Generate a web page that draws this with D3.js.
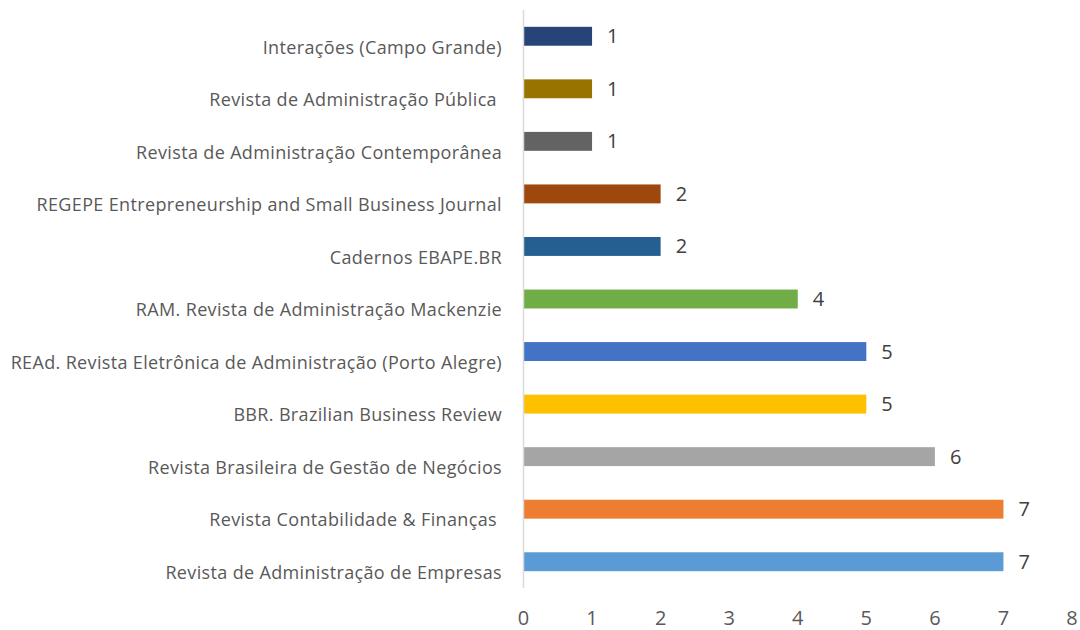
<!DOCTYPE html>
<html>
<head>
<meta charset="utf-8">
<script src="https://cdn.jsdelivr.net/npm/d3@7"></script>
<style>
  body { margin: 0; background: #fff; }
  text { font-family: "Open Sans", sans-serif; }
</style>
</head>
<body>
<div id="chart"></div>
<script>
// categories from bottom to top as in the picture
const journals = [
    "Revista de Administração de Empresas",
    "Revista Contabilidade & Finanças ",
    "Revista Brasileira de Gestão de Negócios",
    "BBR. Brazilian Business Review",
    "REAd. Revista Eletrônica de Administração (Porto Alegre)",
    "RAM. Revista de Administração Mackenzie",
    "Cadernos EBAPE.BR",
    "REGEPE Entrepreneurship and Small Business Journal",
    "Revista de Administração Contemporânea",
    "Revista de Administração Pública ",
    "Interações (Campo Grande)"
];
const counts = [7, 7, 6, 5, 5, 4, 2, 2, 1, 1, 1];
const barColors = ["#5B9BD5", "#ED7D31", "#A5A5A5", "#FFC000", "#4472C4", "#70AD47",
    "#255E91", "#9E480E", "#636363", "#997300", "#264478"];
const xTicks = [0, 1, 2, 3, 4, 5, 6, 7, 8];

const width = 1080;
const height = 630;
const margin = { top: 10, right: 8, bottom: 42, left: 523.5 };

const svg = d3.select("#chart")
    .append("svg")
    .attr("width", width)
    .attr("height", height);

const x = d3.scaleLinear()
    .domain([0, 8])
    .range([margin.left, width - margin.right]);

const y = d3.scaleBand()
    .domain(journals.slice().reverse())
    .range([margin.top, height - margin.bottom])
    .paddingInner(0.64)
    .paddingOuter(0.32);

// bars
svg.selectAll("rect.bar")
    .data(journals)
    .enter()
    .append("rect")
    .attr("class", "bar")
    .attr("x", x(0) + 0.5)
    .attr("y", d => y(d))
    .attr("width", (d, i) => x(counts[i]) - x(0) - 0.5)
    .attr("height", y.bandwidth())
    .attr("fill", (d, i) => barColors[i]);

// vertical axis line
svg.append("line")
    .attr("x1", x(0)).attr("x2", x(0))
    .attr("y1", margin.top).attr("y2", height - margin.bottom)
    .attr("stroke", "#d9d9d9")
    .attr("stroke-width", 1.5);

// category labels (sit a bit below the bar centre, like the original)
svg.selectAll("text.cat")
    .data(journals)
    .enter()
    .append("text")
    .attr("class", "cat")
    .attr("x", 502)
    .attr("y", d => y(d) + y.bandwidth() / 2 + 11)
    .attr("dy", "0.35em")
    .attr("text-anchor", "end")
    .style("white-space", "pre")
    .style("font-size", "18px")
    .style("letter-spacing", "0.35px")
    .attr("fill", "#595959")
    .text(d => d);

// value labels
svg.selectAll("text.val")
    .data(journals)
    .enter()
    .append("text")
    .attr("class", "val")
    .attr("x", (d, i) => x(counts[i]) + 15)
    .attr("y", d => y(d) + y.bandwidth() / 2)
    .attr("dy", "0.35em")
    .style("font-size", "20px")
    .attr("fill", "#404040")
    .text((d, i) => counts[i]);

// x tick labels
svg.selectAll("text.tick")
    .data(xTicks)
    .enter()
    .append("text")
    .attr("class", "tick")
    .attr("x", d => x(d))
    .attr("y", 618)
    .attr("dy", "0.35em")
    .attr("text-anchor", "middle")
    .style("font-size", "20px")
    .attr("fill", "#595959")
    .text(d => d);
</script>
</body>
</html>
